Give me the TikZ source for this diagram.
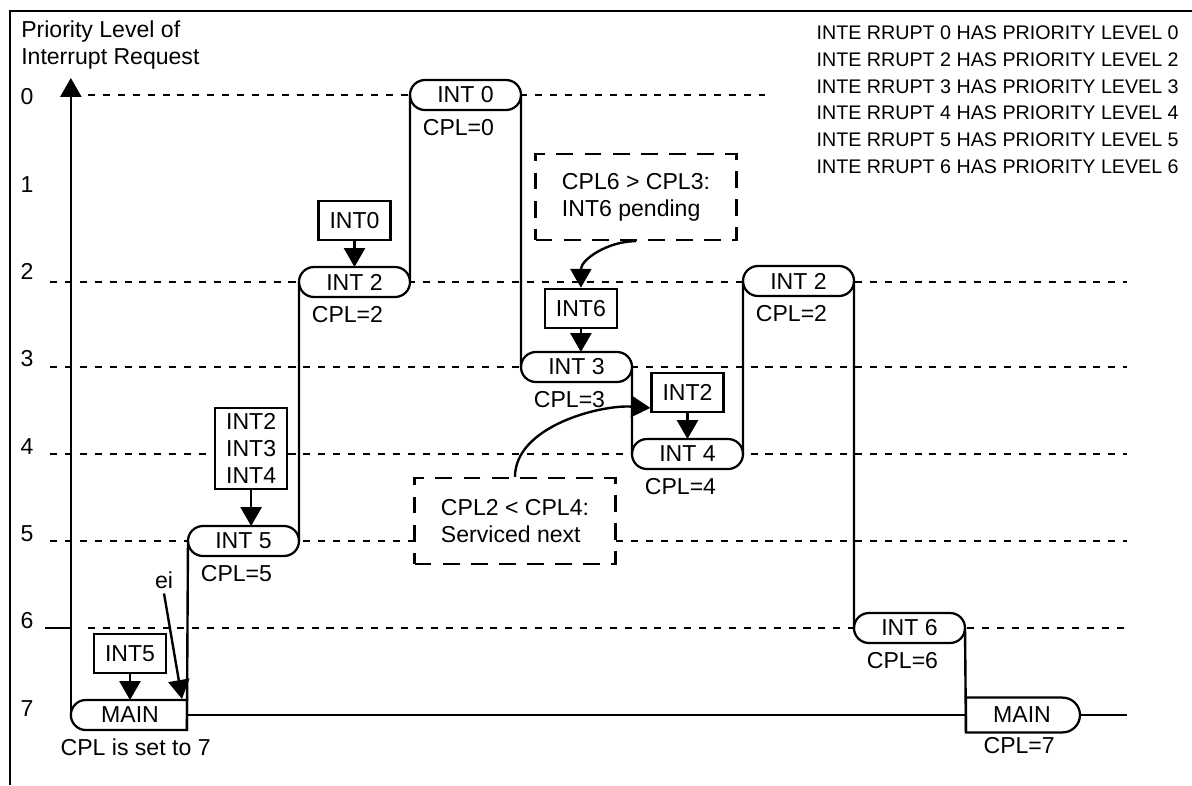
\documentclass[tikz,border=0pt]{standalone}
\usepackage{fontspec}
\setmainfont{Liberation Sans}
\usetikzlibrary{shapes.misc, arrows.meta, positioning}
\newcommand{\diagfont}{\fontsize{16.4}{19}\selectfont}
\newcommand{\legfont}{\fontsize{14}{17}\selectfont}

\begin{document}
\begin{tikzpicture}[x=0.025cm, y=-0.025cm,
        node distance=0.65cm,
        every node/.style={font=\diagfont},
        task/.style={draw, rounded rectangle, fill=white, line width=1.6pt,
                     minimum width=2.775cm, minimum height=0.75cm,
                     inner sep=0pt, outer sep=0pt},
        req/.style={draw, fill=white, line width=1.6pt, minimum width=1.8cm,
                    minimum height=0.97cm, inner sep=0pt, align=center},
        note/.style={draw, fill=white, line width=1.6pt,
                     dash pattern=on 12pt off 8pt, minimum width=5.02cm,
                     minimum height=2.15cm, align=left},
        cpl/.style={below=3pt of #1, xshift=-5pt},
        guide/.style={line width=1.4pt, dash pattern=on 5pt off 5.6pt},
        flow/.style={line width=1.7pt},
        pend/.style={flow, -{Triangle[width=15pt,length=13.5pt]}},
    ]
    \useasboundingbox (0,0) rectangle (1192,785);

    % frame and axis title
    \draw[line width=2pt] (10,785) -- (10,11) -- (1192,11);
    \node[anchor=north west, align=left, inner sep=0pt] (ytitle) at (21,21)
        {Priority Level of\\Interrupt Request};

    % priority levels
    \foreach \n in {0,...,7}
        \node (lv\n) at (27,{97+87.3*\n}) {\n};
    \draw[guide] (88,95) -- (765,95);
    \foreach \yy in {282,367,454,541}
        \draw[guide] (50,\yy) -- (1127,\yy);
    \draw[flow] (45,628) -- (72,628);
    \draw[guide] (88,628) -- (1127,628);

    % legend
    \foreach \n [count=\i] in {0,2,3,4,5,6}
        \node[font=\legfont, anchor=east, inner sep=0pt] (leg\n)
            at (1179,{33+26.7*(\i-1)}) {INTE RRUPT \n\ HAS PRIORITY LEVEL \n};

    % running programs
    \node[task, rounded rectangle right arc=none, minimum width=2.9cm] (mainL)
        at (130,715) {MAIN};
    \node[task] (int5)  at (243.5,541) {INT 5};
    \node[task] (int2a) at (354.5,282) {INT 2};
    \node[task] (int0)  at (465.5,95)  {INT 0};
    \node[task] (int3)  at (576.5,367) {INT 3};
    \node[task] (int4)  at (687.5,454) {INT 4};
    \node[task] (int2b) at (798.5,281) {INT 2};
    \node[task] (int6)  at (909.5,628) {INT 6};
    \node[task, rounded rectangle left arc=none, minimum width=2.85cm,
          minimum height=0.87cm] (mainR) at (1022,715) {MAIN};
    \coordinate (ytop) at (72,78);
    \coordinate (tail) at (1127,715);

    \draw[pend] (mainL.west) -- (mainL.west |- ytop);
    \draw[flow] (mainL.east) -- (mainR.west);
    \draw[flow] (mainL.east |- mainL.south) -- (int5.west);
    \draw[flow] (int5.east) -- (int2a.west);
    \draw[flow] (int2a.east) -- (int0.west);
    \draw[flow] (int0.east) -- (int3.west);
    \draw[flow] (int3.east) -- (int4.west);
    \draw[flow] (int4.east) -- (int2b.west);
    \draw[flow] (int2b.east) -- (int6.west);
    \draw[flow] (int6.east) -- (mainR.west |- mainR.south);
    \draw[flow] (mainR.east) -- (tail);

    % CPL values
    \node[below=3pt of mainL, xshift=4pt] (cset) {CPL is set to 7};
    \node[cpl=int5]  (c5)  {CPL=5};
    \node[cpl=int2a] (c2a) {CPL=2};
    \node[cpl=int0]  (c0)  {CPL=0};
    \node[cpl=int3]  (c3)  {CPL=3};
    \node[cpl=int4]  (c4)  {CPL=4};
    \node[cpl=int2b] (c2b) {CPL=2};
    \node[cpl=int6]  (c6)  {CPL=6};
    \node[below=0pt of mainR, xshift=-2pt] (c7) {CPL=7};

    % pending requests
    \node[req, above=of mainL] (q5) {INT5};
    \node[req, above=of int2a] (q0) {INT0};
    \node[req, above=0.9cm of int5, xshift=0.19cm, minimum height=2.03cm] (q234)
        {INT2\\INT3\\INT4};
    \node[req, above=0.58cm of int3, xshift=0.11cm] (q6) {INT6};
    \node[req, above=of int4] (q2) {INT2};
    \draw[pend] (q5.south) -- (q5.south |- mainL.north);
    \draw[pend] (q0.south) -- (q0.south |- int2a.north);
    \draw[pend] (q234.south) -- (q234.south |- int5.north);
    \draw[pend] (q6.south) -- (q6.south |- int3.north);
    \draw[pend] (q2.south) -- (q2.south |- int4.north);

    % ei
    \node (ei) at (164,580) {ei};
    \coordinate (eitip) at (182,699);
    \draw[pend] (ei.south) -- (eitip);

    % notes
    \node[note] (pend6) at (636,197) {CPL6 > CPL3:\\INT6 pending};
    \node[note] (next2) at (515,521) {CPL2 < CPL4:\\Serviced next};
    \draw[pend] (pend6.south) to[out=180, in=90] (q6.north);
    \draw[pend] (next2.north) to[out=90, in=176, looseness=0.85]
        ([yshift=-11pt]q2.west);
\end{tikzpicture}
\end{document}
